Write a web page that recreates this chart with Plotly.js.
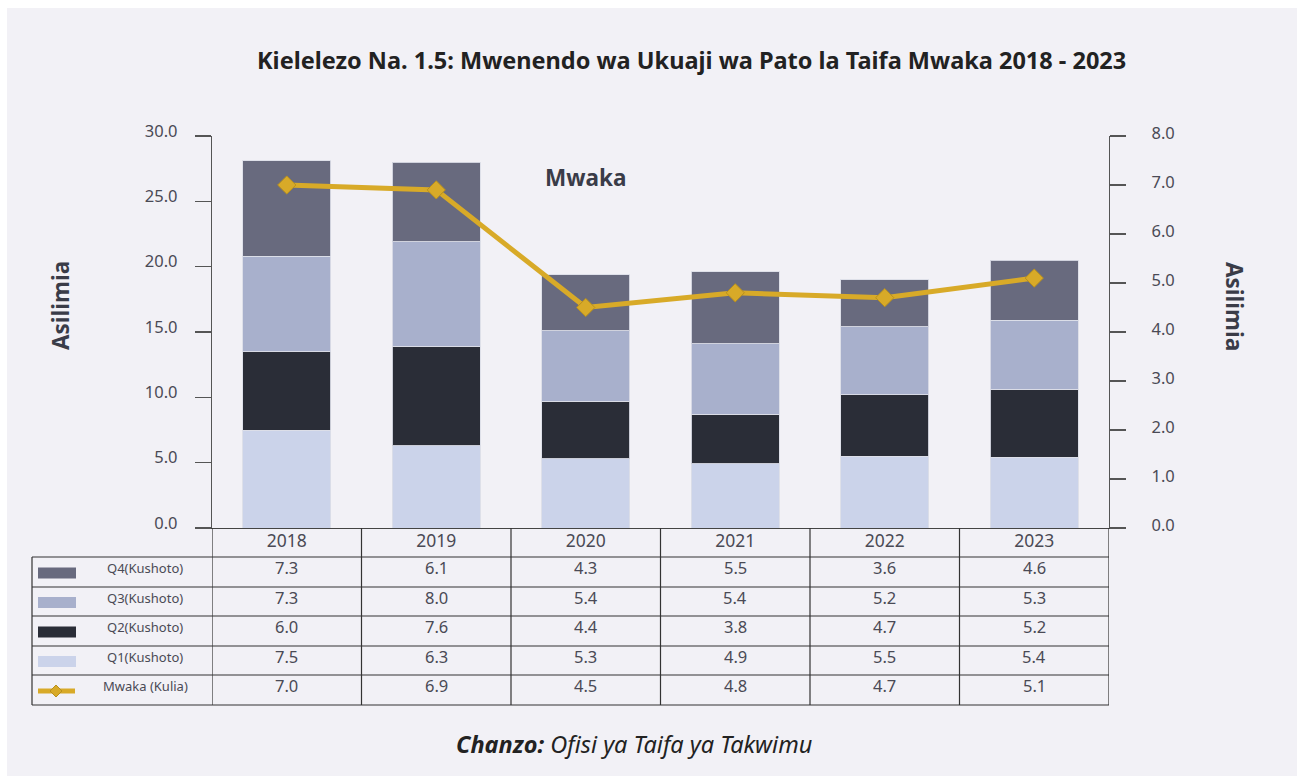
<!DOCTYPE html>
<html><head><meta charset="utf-8">
<script src="https://cdn.plot.ly/plotly-3.0.1.min.js"></script>
<style>html,body{margin:0;padding:0;background:#fff;} #chart{width:1303px;height:776px;}</style>
</head><body><div id="chart"></div>
<script>
// ---- data ----
const years = ['2018','2019','2020','2021','2022','2023'];
const q1 = [7.5, 6.3, 5.3, 4.9, 5.5, 5.4];
const q2 = [6.0, 7.6, 4.4, 3.8, 4.7, 5.2];
const q3 = [7.3, 8.0, 5.4, 5.4, 5.2, 5.3];
const q4 = [7.3, 6.1, 4.3, 5.5, 3.6, 4.6];
const mwaka = [7.0, 6.9, 4.5, 4.8, 4.7, 5.1];
const rowLabels = ['Q4(Kushoto)','Q3(Kushoto)','Q2(Kushoto)','Q1(Kushoto)','Mwaka (Kulia)'];
const titleText = 'Kielelezo Na. 1.5: Mwenendo wa Ukuaji wa Pato la Taifa Mwaka 2018 - 2023';
const innerLabel = 'Mwaka';
const axisLabel = 'Asilimia';
const sourceText = '<b><i>Chanzo:</i></b><i> Ofisi ya Taifa ya Takwimu</i>';

// ---- styles ----
const C = {q4:'#686a7e', q3:'#a8b0cc', q2:'#2a2d37', q1:'#cbd3ea', line:'#d8aa28', lineEdge:'#b8901e',
           panel:'#f2f1f6', text:'#4a4a55', dark:'#3a3c48', grid:'#333'};
const FONT = 'Noto Sans, Open Sans, sans-serif';

const W = 1303, H = 776, L = 212, R = 1109, T = 136, B = 528;
const px = x => (x - L) / (R - L);
const py = y => (B - y) / (B - T);
const xi = years.map((_, i) => i);   // category positions on the x scale

const barLine = {color:'rgba(220,222,232,0.9)', width:1};
const traces = [
  {type:'bar', x:xi, y:q1, name:rowLabels[3], marker:{color:C.q1, line:barLine}},
  {type:'bar', x:xi, y:q2, name:rowLabels[2], marker:{color:C.q2, line:barLine}},
  {type:'bar', x:xi, y:q3, name:rowLabels[1], marker:{color:C.q3, line:barLine}},
  {type:'bar', x:xi, y:q4, name:rowLabels[0], marker:{color:C.q4, line:barLine}},
  {type:'scatter', mode:'lines+markers', x:xi, y:mwaka, yaxis:'y2', name:rowLabels[4],
   line:{color:C.line, width:5}, marker:{symbol:'diamond', size:14, color:C.line, line:{color:C.lineEdge, width:1}}}
];

const shapes = [];
const annotations = [];
// panel background
shapes.push({type:'rect', xref:'paper', yref:'paper', x0:px(7), x1:px(1297), y0:py(776), y1:py(8),
  fillcolor:C.panel, line:{width:0}, layer:'below'});

// table geometry
const rowEdges = [557, 587, 616, 646, 675, 705];
const tableLeft = 32;
const lineStyle = {color:C.grid, width:1.2};
rowEdges.forEach(y => shapes.push({type:'line', xref:'paper', yref:'paper', x0:px(tableLeft), x1:px(R), y0:py(y), y1:py(y), line:lineStyle}));
for (let i = 0; i <= years.length; i++) {
  shapes.push({type:'line', xref:'x', yref:'paper', x0:i-0.5, x1:i-0.5, y0:py(B), y1:py(rowEdges[rowEdges.length-1]), line:lineStyle});
}
shapes.push({type:'line', xref:'paper', yref:'paper', x0:px(tableLeft), x1:px(tableLeft), y0:py(rowEdges[0]), y1:py(rowEdges[rowEdges.length-1]), line:lineStyle});

// table values + legend keys
const rowsData = [q4, q3, q2, q1, mwaka];
const rowColors = [C.q4, C.q3, C.q2, C.q1, C.line];
rowsData.forEach((arr, r) => {
  const yc = (rowEdges[r] + rowEdges[r+1]) / 2 - 4.5;
  arr.forEach((v, i) => annotations.push({xref:'x', yref:'paper', x:xi[i], y:py(yc), text:v.toFixed(1),
    showarrow:false, font:{family:FONT, size:16.5, color:C.text}, xanchor:'center', yanchor:'middle'}));
  annotations.push({xref:'paper', yref:'paper', x:px(145), y:py(yc + 0.5), text:rowLabels[r], showarrow:false,
    font:{family:FONT, size:13, color:C.text}, xanchor:'center', yanchor:'middle'});
  const yk = (rowEdges[r] + rowEdges[r+1]) / 2 + 1;
  if (r < 4) {
    shapes.push({type:'rect', xref:'paper', yref:'paper', x0:px(38), x1:px(76), y0:py(yk+5.5), y1:py(yk-5.5),
      fillcolor:rowColors[r], line:{width:0}});
  } else {
    shapes.push({type:'line', xref:'paper', yref:'paper', x0:px(38), x1:px(75), y0:py(yk), y1:py(yk), line:{color:C.line, width:5}});
    const cx = 56, d = 6;
    shapes.push({type:'path', xref:'paper', yref:'paper',
      path:`M ${px(cx-d)} ${py(yk)} L ${px(cx)} ${py(yk-d)} L ${px(cx+d)} ${py(yk)} L ${px(cx)} ${py(yk+d)} Z`,
      fillcolor:C.line, line:{color:C.lineEdge, width:1}});
  }
});

// texts
annotations.push({xref:'paper', yref:'paper', x:px(691), y:py(60), text:'<b>'+titleText+'</b>', showarrow:false,
  font:{family:FONT, size:23.5, color:'#222'}, xanchor:'center', yanchor:'middle'});
annotations.push({xref:'paper', yref:'paper', x:px(585), y:py(177), text:'<b>'+innerLabel+'</b>', showarrow:false,
  font:{family:FONT, size:22.5, color:C.dark}, xanchor:'center', yanchor:'middle'});
annotations.push({xref:'paper', yref:'paper', x:px(60), y:py(306), text:'<b>'+axisLabel+'</b>', textangle:-90, showarrow:false,
  font:{family:FONT, size:22.5, color:C.dark}, xanchor:'center', yanchor:'middle'});
annotations.push({xref:'paper', yref:'paper', x:px(1235), y:py(306), text:'<b>'+axisLabel+'</b>', textangle:90, showarrow:false,
  font:{family:FONT, size:22.5, color:C.dark}, xanchor:'center', yanchor:'middle'});
annotations.push({xref:'paper', yref:'paper', x:px(634), y:py(744), text:sourceText, showarrow:false,
  font:{family:FONT, size:23.5, color:'#222'}, xanchor:'center', yanchor:'middle'});

const layout = {
  width:W, height:H,
  margin:{l:L, r:W-R, t:T, b:H-B, pad:0},
  paper_bgcolor:'#ffffff', plot_bgcolor:'rgba(0,0,0,0)',
  barmode:'stack', bargap:0.41, showlegend:false,
  font:{family:FONT, color:C.text},
  xaxis:{range:[-0.5, years.length-0.5], tickvals:xi, ticktext:years, showgrid:false, zeroline:false, showline:true,
    linecolor:'#444', linewidth:1.2, ticks:'', tickfont:{size:17.5, color:C.text}, ticklabelstandoff:-3, fixedrange:true},
  yaxis:{range:[0,30], dtick:5, tickformat:'.1f', showgrid:false, zeroline:false, showline:true, linecolor:'#555', linewidth:1.2,
    ticks:'outside', ticklen:16, tickcolor:'#555', tickwidth:1.2, tickfont:{size:16.5, color:C.text}, ticklabelstandoff:14, ticklabelshift:-5},
  yaxis2:{range:[0,8], dtick:1, tickformat:'.1f', overlaying:'y', side:'right', showgrid:false, zeroline:false, showline:true,
    linecolor:'#555', linewidth:1.2, ticks:'outside', ticklen:16, tickcolor:'#555', tickwidth:1.2,
    tickfont:{size:16.5, color:C.text}, ticklabelstandoff:22, ticklabelshift:-3},
  shapes:shapes, annotations:annotations
};
Plotly.newPlot('chart', traces, layout, {staticPlot:true, displayModeBar:false});
</script></body></html>
